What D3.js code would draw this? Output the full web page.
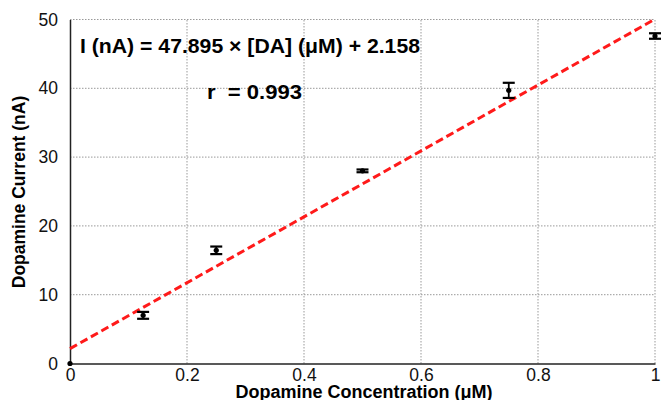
<!DOCTYPE html>
<html><head><meta charset="utf-8">
<script src="https://cdn.jsdelivr.net/npm/d3@7"></script>
<style>body{margin:0;background:#fff}svg{display:block}text{font-family:"Liberation Sans",Arial,sans-serif}</style>
</head><body>
<svg id="c" width="665" height="400"></svg>
<script>
const concentrations = [0, 0.125, 0.25, 0.5, 0.75, 1.0];
const currents = [0, 7.0, 16.45, 28.0, 39.7, 47.6];
const errors = [0, 0.5, 0.55, 0.2, 1.1, 0.4];
const xTicks = [0, 0.2, 0.4, 0.6, 0.8, 1];
const yTicks = [0, 10, 20, 30, 40, 50];
const slope = 47.895, intercept = 2.158;
const eqText = "I (nA) = 47.895 × [DA] (μM) + 2.158";
const rText = "r  = 0.993";

const svg = d3.select("#c");
const x = d3.scaleLinear().domain([0, 1]).range([70, 655]);
const y = d3.scaleLinear().domain([0, 50]).range([363.5, 19.5]);

// grid
svg.append("g").selectAll("line").data(yTicks.filter(d => d > 0)).join("line")
  .attr("x1", x(0)).attr("x2", x(1)).attr("y1", d => y(d)).attr("y2", d => y(d))
  .attr("stroke", "#999").attr("stroke-width", 1).attr("stroke-dasharray", "1.5,1.5");
svg.append("g").selectAll("line").data(xTicks.filter(d => d > 0)).join("line")
  .attr("x1", d => x(d)).attr("x2", d => x(d)).attr("y1", y(0)).attr("y2", y(50))
  .attr("stroke", "#999").attr("stroke-width", 1).attr("stroke-dasharray", "1.5,1.5");

// axes
const xAxis = d3.axisBottom(x).tickValues(xTicks).tickSize(0).tickPadding(5).tickFormat(d3.format("~g"));
const yAxis = d3.axisLeft(y).tickValues(yTicks).tickSize(0).tickPadding(12);
const gx = svg.append("g").attr("transform", `translate(0,${y(0)})`).call(xAxis);
const gy = svg.append("g").attr("transform", `translate(${x(0)},0)`).call(yAxis);
[gx, gy].forEach(g => {
  g.select(".domain").attr("stroke", "#222").attr("stroke-width", 1.5);
  g.selectAll("text").attr("font-size", 17.5).attr("fill", "#111").attr("font-family", '"Liberation Sans",Arial,sans-serif');
});

// fit line
svg.append("line")
  .attr("x1", x(0)).attr("y1", y(intercept))
  .attr("x2", x(1)).attr("y2", y(slope + intercept))
  .attr("stroke", "#ff1a1a").attr("stroke-width", 3).attr("stroke-dasharray", "8,4");

// error bars and points
const pts = concentrations.map((c, i) => ({c, v: currents[i], e: errors[i]}));
const eb = svg.append("g").attr("stroke", "#000").attr("stroke-width", 1.8);
pts.filter(d => d.e > 0).forEach(d => {
  eb.append("line").attr("x1", x(d.c)).attr("x2", x(d.c)).attr("y1", y(d.v - d.e)).attr("y2", y(d.v + d.e));
  [d.v - d.e, d.v + d.e].forEach(v => eb.append("line")
    .attr("x1", x(d.c) - 6).attr("x2", x(d.c) + 6).attr("y1", y(v)).attr("y2", y(v)).attr("stroke-width", 2.2));
});
svg.append("g").selectAll("circle").data(pts).join("circle")
  .attr("cx", d => x(d.c)).attr("cy", d => y(d.v)).attr("r", 2.6).attr("fill", "#000");

// annotations
svg.append("text").attr("x", 80).attr("y", 53).attr("font-size", 20.5).attr("font-weight", "bold")
  .attr("textLength", 340).attr("lengthAdjust", "spacingAndGlyphs").text(eqText);
svg.append("text").attr("x", 207).attr("y", 99).attr("font-size", 21).attr("font-weight", "bold")
  .attr("xml:space", "preserve").attr("textLength", 95).attr("lengthAdjust", "spacingAndGlyphs").text(rText);

// titles
svg.append("text").attr("x", 364).attr("y", 398).attr("text-anchor", "middle")
  .attr("font-size", 18).attr("font-weight", "bold").text("Dopamine Concentration (μM)");
svg.append("text").attr("transform", "translate(25,192) rotate(-90)").attr("text-anchor", "middle")
  .attr("font-size", 17.5).attr("font-weight", "bold").text("Dopamine Current (nA)");
</script>
</body></html>
